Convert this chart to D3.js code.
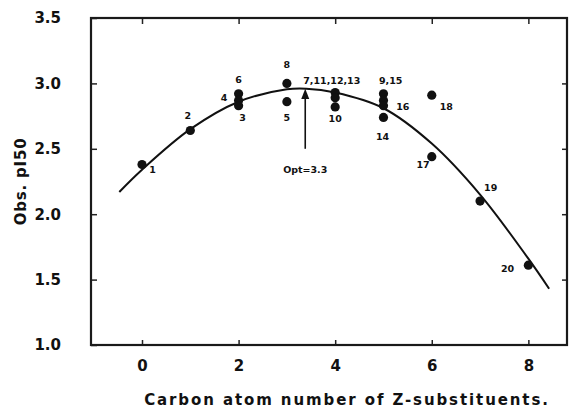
<!DOCTYPE html>
<html>
<head>
<meta charset="utf-8">
<script src="https://cdn.jsdelivr.net/npm/d3@7"></script>
<style>
  body { margin: 0; background: #fff; }
  text { fill: #111; }
</style>
</head>
<body>
<div id="chart"></div>
<script>
// observed points (carbon number, obs. pI50)
var ptX = [0, 1, 2, 2, 2, 3, 3, 4, 4, 4, 5, 5, 5, 5, 6, 6, 7, 8];
var ptY = [2.38, 2.64, 2.92, 2.87, 2.83, 3.00, 2.86, 2.93, 2.89, 2.82, 2.92, 2.87, 2.83, 2.74, 2.91, 2.44, 2.10, 1.61];

// fitted curve
var fitX = [-0.47, 0, 1, 2, 3, 3.4, 4, 5, 6, 7, 8, 8.43];
var fitY = [2.17, 2.34, 2.65, 2.86, 2.955, 2.96, 2.93, 2.81, 2.54, 2.15, 1.66, 1.43];

// compound number labels and the data position they sit next to
var lblText = ["1", "2", "3", "4", "5", "6", "8", "7,11,12,13", "9,15", "10", "14", "16", "17", "18", "19", "20"];
var lblX = [0.22, 0.95, 2.08, 1.7, 3.0, 2.0, 3.0, 3.93, 5.15, 4.0, 4.98, 5.4, 5.82, 6.3, 7.22, 7.57];
var lblY = [2.34, 2.75, 2.74, 2.89, 2.74, 3.03, 3.14, 3.02, 3.02, 2.73, 2.59, 2.82, 2.38, 2.82, 2.20, 1.58];

var xTicks = [0, 2, 4, 6, 8];
var yTicks = [1.0, 1.5, 2.0, 2.5, 3.0, 3.5];

var optX = 3.38, optLabel = "Opt=3.3";

var margin = {top: 18, right: 11, bottom: 65, left: 91},
    width = 578 - margin.left - margin.right,
    height = 410 - margin.top - margin.bottom;

var svg = d3.select("#chart")
  .append("svg")
    .attr("width", 578)
    .attr("height", 410)
  .append("g")
    .attr("transform", "translate(" + margin.left + "," + margin.top + ")");

var x = d3.scaleLinear().domain([-1.056, 8.8]).range([0, width]);
var y = d3.scaleLinear().domain([1.0, 3.5]).range([height, 0]);

var font = "'DejaVu Sans', sans-serif";

// axes
var xAxis = svg.append("g")
  .attr("transform", "translate(0," + height + ")")
  .call(d3.axisBottom(x).tickValues(xTicks).tickFormat(d3.format("d")).tickSize(-5).tickPadding(15));
var xTop = svg.append("g")
  .call(d3.axisTop(x).tickValues(xTicks).tickFormat("").tickSize(-6));
var yAxis = svg.append("g")
  .call(d3.axisLeft(y).tickValues(yTicks).tickFormat(d3.format(".1f")).tickSize(-6).tickPadding(30));
var yRight = svg.append("g")
  .attr("transform", "translate(" + width + ",0)")
  .call(d3.axisRight(y).tickValues(yTicks.slice(1, 5)).tickFormat("").tickSize(-5));

[xAxis, xTop, yAxis, yRight].forEach(function(a) {
  a.select(".domain").remove();
  a.selectAll("line").attr("stroke", "#222").attr("stroke-width", 1.5);
  a.selectAll("text")
    .style("font-family", font)
    .style("font-weight", "bold")
    .style("font-size", "15px")
    .attr("fill", "#111");
});

// frame
svg.append("rect")
  .attr("width", width)
  .attr("height", height)
  .attr("fill", "none")
  .attr("stroke", "#1a1a1a")
  .attr("stroke-width", 2.2);

// fitted curve
var fit = fitX.map(function(d, i) { return [d, fitY[i]]; });
svg.append("path")
  .datum(fit)
  .attr("fill", "none")
  .attr("stroke", "#111")
  .attr("stroke-width", 2)
  .attr("d", d3.line().x(d => x(d[0])).y(d => y(d[1])).curve(d3.curveCatmullRom));

// points
svg.append("g")
  .selectAll("circle")
  .data(ptX.map(function(d, i) { return [d, ptY[i]]; }))
  .enter()
  .append("circle")
    .attr("cx", d => x(d[0]))
    .attr("cy", d => y(d[1]))
    .attr("r", 4.6)
    .attr("fill", "#111");

// point labels
svg.append("g")
  .selectAll("text")
  .data(lblText)
  .enter()
  .append("text")
    .attr("x", (d, i) => x(lblX[i]))
    .attr("y", (d, i) => y(lblY[i]))
    .attr("dy", "0.35em")
    .attr("text-anchor", "middle")
    .style("font-family", font)
    .style("font-weight", "bold")
    .style("font-size", "9.5px")
    .text(d => d);

// optimum arrow
svg.append("line")
  .attr("x1", x(optX)).attr("x2", x(optX))
  .attr("y1", y(2.5)).attr("y2", y(2.89))
  .attr("stroke", "#111")
  .attr("stroke-width", 1.6);
svg.append("path")
  .attr("d", "M" + (x(optX) - 4) + "," + (y(2.88)) + "L" + x(optX) + "," + (y(2.96)) + "L" + (x(optX) + 4) + "," + (y(2.88)) + "Z")
  .attr("fill", "#111");
svg.append("text")
  .attr("x", x(optX))
  .attr("y", y(2.34))
  .attr("dy", "0.35em")
  .attr("text-anchor", "middle")
  .style("font-family", font)
  .style("font-weight", "bold")
  .style("font-size", "9.5px")
  .text(optLabel);

// axis titles
svg.append("text")
  .attr("x", width / 2 + 18)
  .attr("y", height + 60)
  .attr("text-anchor", "middle")
  .style("font-family", font)
  .style("font-size", "15px")
  .style("font-weight", "bold")
  .style("letter-spacing", "1.9px")
  .text("Carbon atom number of Z-substituents.");

svg.append("text")
  .attr("transform", "translate(" + (-65) + "," + (y(2.25)) + ") rotate(-90)")
  .attr("text-anchor", "middle")
  .style("font-family", font)
  .style("font-size", "15px")
  .style("font-weight", "bold")
  .style("letter-spacing", "0.8px")
  .text("Obs. pI50");
</script>
</body>
</html>
